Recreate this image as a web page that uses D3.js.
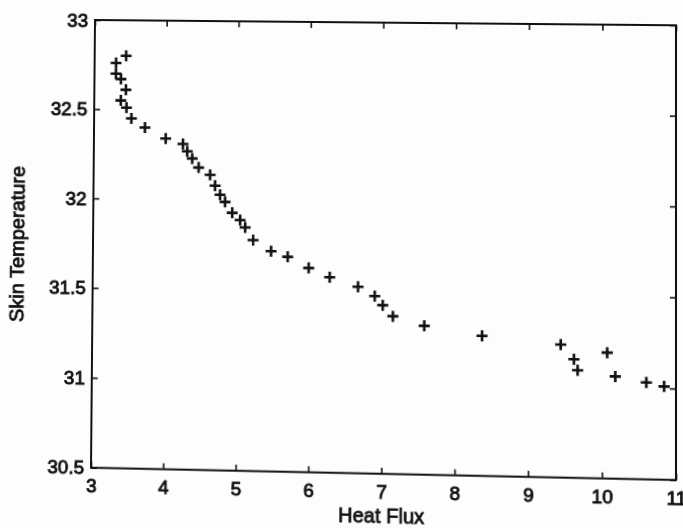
<!DOCTYPE html>
<html>
<head>
<meta charset="utf-8">
<script src="https://cdn.jsdelivr.net/npm/d3@7"></script>
<style>
  body { margin: 0; background: #fdfdfd; }
  #viz { width: 683px; height: 528px; overflow: hidden; }
  #viz svg { transform-origin: 0 0; }
  .tick text { font-family: "Liberation Sans", Arial, sans-serif; font-size: 19px; fill: #111; stroke: #111; stroke-width: 0.9px; }
  .title { font-family: "Liberation Sans", Arial, sans-serif; font-size: 20px; fill: #111; stroke: #111; stroke-width: 0.8px; }
</style>
</head>
<body>
<div id="viz"></div>
<script>
// data
var heatFlux = [3.44, 3.30, 3.30, 3.37, 3.44, 3.37, 3.45, 3.52, 3.71, 4.00,
                4.24, 4.30, 4.37, 4.46, 4.62, 4.69, 4.76, 4.83, 4.93, 5.04,
                5.11, 5.22, 5.47, 5.70, 5.99, 6.28, 6.67, 6.90, 7.01, 7.15,
                7.58, 8.37, 9.44, 9.62, 9.67, 10.07, 10.18, 10.60, 10.84];
var skinTemp = [32.80, 32.76, 32.70, 32.67, 32.61, 32.55, 32.51, 32.45, 32.40, 32.34,
                32.31, 32.27, 32.23, 32.18, 32.14, 32.08, 32.03, 31.99, 31.93, 31.89,
                31.85, 31.78, 31.72, 31.69, 31.63, 31.58, 31.53, 31.48, 31.43, 31.37,
                31.32, 31.27, 31.23, 31.15, 31.09, 31.19, 31.06, 31.03, 31.01];
var xTicks = [3, 4, 5, 6, 7, 8, 9, 10, 11];
var yTicks = [30.5, 31, 31.5, 32, 32.5, 33];

var margin = {top: 20, right: 7, bottom: 60.3, left: 95};
var width = 683 - margin.left - margin.right,
    height = 528 - margin.top - margin.bottom;

var svg = d3.select("#viz").append("svg")
    .attr("width", 683)
    .attr("height", 528);

var g = svg.append("g")
    .attr("transform", "translate(" + margin.left + "," + margin.top + ")");

var xScale = d3.scaleLinear().domain([3, 11]).range([0, width]);
var yScale = d3.scaleLinear().domain([30.5, 33]).range([height, 0]);
var fmt = function(d) { return String(d); };

// axes, matlab style ticks pointing in
g.append("g")
    .attr("transform", "translate(0," + height + ")")
    .call(d3.axisBottom(xScale).tickValues(xTicks).tickFormat(fmt)
        .tickSizeInner(-6).tickSizeOuter(0).tickPadding(11));
g.append("g")
    .call(d3.axisLeft(yScale).tickValues(yTicks).tickFormat(fmt)
        .tickSizeInner(-6).tickSizeOuter(0).tickPadding(7));
g.append("g")
    .call(d3.axisTop(xScale).tickValues(xTicks).tickSizeInner(-6).tickSizeOuter(0).tickFormat(""));
g.append("g")
    .attr("transform", "translate(" + width + ",0)")
    .call(d3.axisRight(yScale).tickValues(yTicks).tickSizeInner(-6).tickSizeOuter(0).tickFormat(""));

g.selectAll(".domain").remove();
g.selectAll(".tick line").attr("stroke", "#111").attr("stroke-width", 1.6);

g.append("rect")
    .attr("width", width)
    .attr("height", height)
    .attr("fill", "none")
    .attr("stroke", "#111")
    .attr("stroke-width", 2);

// plus markers
var pts = heatFlux.map(function(d, i) { return {x: d, y: skinTemp[i]}; });
var arm = 5.5;
g.selectAll(".pt")
    .data(pts)
    .enter().append("path")
    .attr("class", "pt")
    .attr("d", function(d) {
        var cx = xScale(d.x), cy = yScale(d.y);
        return "M" + (cx - arm) + "," + cy + "H" + (cx + arm) +
               "M" + cx + "," + (cy - arm) + "V" + (cy + arm);
    })
    .attr("stroke", "#111")
    .attr("stroke-width", 2.6)
    .attr("fill", "none");

g.append("text")
    .attr("class", "title")
    .attr("x", width / 2)
    .attr("y", height + 48)
    .attr("text-anchor", "middle")
    .text("Heat Flux");

g.append("text")
    .attr("class", "title")
    .attr("transform", "translate(-70," + (height / 2 + 2) + ") rotate(-90)")
    .attr("text-anchor", "middle")
    .text("Skin Temperature");

// the scan is not square on the page: warp the plot box onto the measured corners
function homography(src, dst) {
    var A = [], b = [];
    for (var i = 0; i < 4; i++) {
        var x = src[i][0], y = src[i][1], u = dst[i][0], v = dst[i][1];
        A.push([x, y, 1, 0, 0, 0, -x * u, -y * u]); b.push(u);
        A.push([0, 0, 0, x, y, 1, -x * v, -y * v]); b.push(v);
    }
    var n = 8;
    for (var c = 0; c < n; c++) {
        var p = c;
        for (var r = c + 1; r < n; r++) if (Math.abs(A[r][c]) > Math.abs(A[p][c])) p = r;
        var t = A[c]; A[c] = A[p]; A[p] = t;
        t = b[c]; b[c] = b[p]; b[p] = t;
        for (r = c + 1; r < n; r++) {
            var f = A[r][c] / A[c][c];
            for (var k = c; k < n; k++) A[r][k] -= f * A[c][k];
            b[r] -= f * b[c];
        }
    }
    var h = new Array(n);
    for (var r2 = n - 1; r2 >= 0; r2--) {
        var s = b[r2];
        for (var k2 = r2 + 1; k2 < n; k2++) s -= A[r2][k2] * h[k2];
        h[r2] = s / A[r2][r2];
    }
    return h;
}

var L = margin.left, T = margin.top, R = margin.left + width, B = margin.top + height;
var h = homography(
    [[L, T], [R, T], [L, B], [R, B]],
    [[95, 20], [676, 25.3], [91, 467.7], [676, 480]]);
svg.style("transform", "matrix3d(" + [h[0], h[3], 0, h[6],
                                      h[1], h[4], 0, h[7],
                                      0, 0, 1, 0,
                                      h[2], h[5], 0, 1].join(",") + ")");
</script>
</body>
</html>
